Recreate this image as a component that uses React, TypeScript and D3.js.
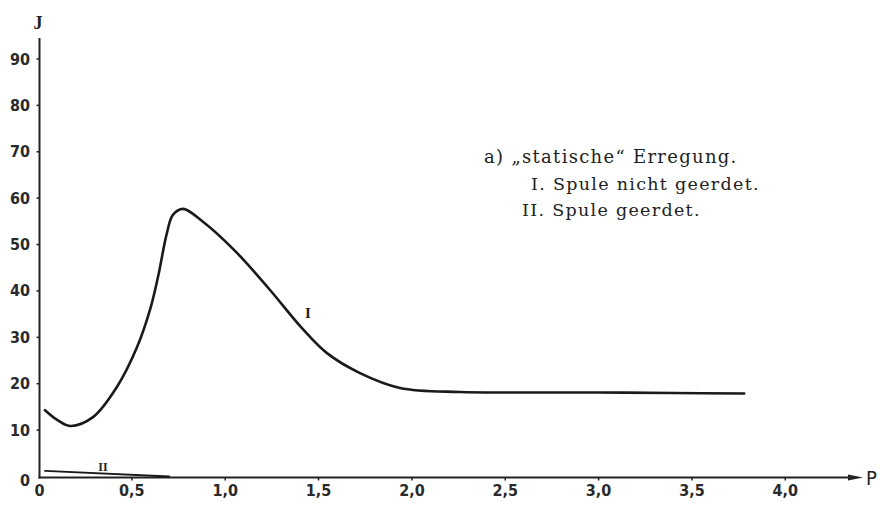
import React from "react";
import * as d3 from "d3";

const W = 880;
const H = 507;

// Curve I: "Spule nicht geerdet"
const curveI_P = [0.035, 0.1, 0.169, 0.292, 0.42, 0.528, 0.597, 0.64, 0.688, 0.72, 0.774, 0.881, 1.063, 1.24, 1.411, 1.545, 1.722, 1.936, 2.257, 2.6, 3.0, 3.4, 3.78];
const curveI_J = [14.3, 12.2, 10.9, 12.8, 19.3, 27.9, 35.9, 43.0, 52.5, 56.4, 57.7, 54.9, 48.2, 40.2, 32.0, 26.6, 22.3, 19.1, 18.2, 18.1, 18.1, 18.0, 17.9];

// Curve II: "Spule geerdet"
const curveII_P = [0.035, 0.7];
const curveII_J = [1.2, 0.0];

const yTicks = [0, 10, 20, 30, 40, 50, 60, 70, 80, 90];
const xTicks = [0, 0.5, 1.0, 1.5, 2.0, 2.5, 3.0, 3.5, 4.0];
const xTickLabels = ["0", "0,5", "1,0", "1,5", "2,0", "2,5", "3,0", "3,5", "4,0"];

const legendLines = [
  "a) \u201Estatische\u201C Erregung.",
  "I. Spule nicht geerdet.",
  "II. Spule geerdet.",
];

const tickFont = "'DejaVu Sans Condensed', 'Liberation Sans Narrow', 'Arial Narrow', sans-serif";
const serifFont = "'DejaVu Serif', 'Liberation Serif', serif";
const labelFont = "'Liberation Serif', 'DejaVu Serif', serif";

export default function App() {
  const x = d3.scaleLinear().domain([0, 4]).range([38.5, 38.5 + 186.7 * 4]);
  const y = d3.scaleLinear().domain([0, 90]).range([476.5, 59]);

  const line = d3
    .line<[number, number]>()
    .x((d) => x(d[0]))
    .y((d) => y(d[1]))
    .curve(d3.curveCatmullRom.alpha(0.5));

  const dataI: [number, number][] = curveI_P.map((p, i) => [p, curveI_J[i]]);
  const dataII: [number, number][] = curveII_P.map((p, i) => [p, curveII_J[i]]);

  const axisY = 477.5;
  const axisX = 39.5;
  const xEnd = 863;

  return (
    <svg width={W} height={H} style={{ position: "absolute", left: 0, top: 0, background: "#fff" }}>
      <rect x={0} y={0} width={W} height={H} fill="#fff" />
      {/* Y axis */}
      <line x1={axisX} y1={38} x2={axisX} y2={axisY + 1} stroke="#222" strokeWidth={2} />
      {/* X axis */}
      <line x1={axisX - 1} y1={axisY} x2={xEnd - 10} y2={axisY} stroke="#222" strokeWidth={1.8} />
      <path d={`M${xEnd},${axisY} L${xEnd - 15},${axisY - 3} L${xEnd - 15},${axisY + 3} Z`} fill="#222" />

      {/* Y ticks */}
      {yTicks.map((t) => (
        <g key={"yt" + t}>
          {t > 0 && <line x1={axisX - 3} x2={axisX} y1={y(t)} y2={y(t)} stroke="#222" strokeWidth={1.5} />}
          <text
            x={30}
            y={t === 0 ? y(t) + 4 : y(t)}
            textAnchor="end"
            dominantBaseline="central"
            fontFamily={tickFont}
            fontWeight="bold"
            fontSize={16}
            fill="#2a2a2a"
          >
            {t}
          </text>
        </g>
      ))}

      {/* X ticks */}
      {xTicks.map((t, i) => (
        <g key={"xt" + t}>
          {t > 0 && <line x1={x(t)} x2={x(t)} y1={axisY} y2={axisY + 3} stroke="#222" strokeWidth={1.5} />}
          <text
            x={x(t) + (t === 0 ? 1 : 0)}
            y={496}
            textAnchor="middle"
            fontFamily={tickFont}
            fontWeight="bold"
            fontSize={16}
            fill="#2a2a2a"
          >
            {xTickLabels[i]}
          </text>
        </g>
      ))}

      {/* Axis labels */}
      <text x={38} y={29} textAnchor="middle" fontFamily={labelFont} fontWeight="bold" fontSize={18} fill="#222">
        J
      </text>
      <text x={866} y={485} fontFamily={tickFont} fontSize={20} fill="#222">
        P
      </text>

      {/* Curves */}
      <path d={line(dataI) || ""} fill="none" stroke="#1a1a1a" strokeWidth={2.6} strokeLinecap="round" />
      <path d={line(dataII) || ""} fill="none" stroke="#1a1a1a" strokeWidth={1.8} strokeLinecap="round" />

      {/* Curve labels */}
      <text x={308} y={318} textAnchor="middle" fontFamily={labelFont} fontWeight="bold" fontSize={15} fill="#222">
        I
      </text>
      <text x={103} y={471} textAnchor="middle" fontFamily={labelFont} fontWeight="bold" fontSize={12} fill="#222">
        II
      </text>

      {/* Legend */}
      <text x={484} y={163} fontFamily={serifFont} fontSize={18} fill="#222" letterSpacing={1.3}>
        {legendLines[0]}
      </text>
      <text x={531} y={190} fontFamily={serifFont} fontSize={17.5} fill="#222" letterSpacing={1.3}>
        {legendLines[1]}
      </text>
      <text x={522} y={216} fontFamily={serifFont} fontSize={17.5} fill="#222" letterSpacing={1.3}>
        {legendLines[2]}
      </text>
    </svg>
  );
}
